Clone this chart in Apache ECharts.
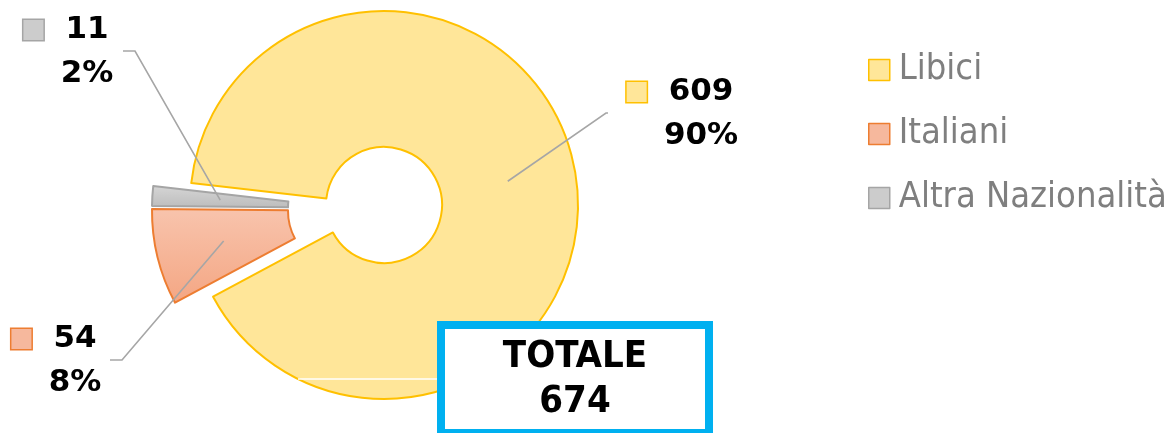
<!DOCTYPE html>
<html><head><meta charset="utf-8">
<script src="https://cdn.jsdelivr.net/npm/echarts@6/dist/echarts.min.js"></script>
<style>html,body{margin:0;padding:0;background:#fff}#c{width:1170px;height:433px}</style>
</head><body><div id="c"></div>
<script>
// ---- data ----
const categories = ['Libici', 'Italiani', 'Altra Nazionalità'];
const values = [609, 54, 11];
const totalTitle = 'TOTALE';

// ---- styles ----
const fills = [
  '#ffe699',
  {type:'linear',x:0,y:0,x2:0,y2:1,colorStops:[{offset:0,color:'#f8c4ad'},{offset:1,color:'#f4a683'}]},
  {type:'linear',x:0,y:0,x2:0,y2:1,colorStops:[{offset:0,color:'#d6d6d6'},{offset:1,color:'#bcbcbc'}]}
];
const markerFills = ['#ffe699', '#f6b89d', '#cccccc'];
const borders = ['#ffc000', '#ed7d31', '#a5a5a5'];

// ---- layout ----
const START_ANGLE = 173.5;
const R_IN = 58, R_OUT = 194;
const centers = [[384, 205], [346, 211], [346, 208]];
const labelAnchors = [[701, 114], [75, 361], [87, 52]];
const lineEnds = [[[606, 113], [608, 113]], [[122, 360], [110, 360]], [[135, 51], [123, 51]]];

const total = values.reduce((a, b) => a + b, 0);
const midAngles = [];
let acc = START_ANGLE;
values.forEach(v => { const span = v / total * 360; midAngles.push(acc - span / 2); acc -= span; });

const labelFont = {fontSize: 31, fontWeight: 'bold', color: '#000', fontFamily: "'DejaVu Sans', Verdana, sans-serif", lineHeight: 44};

function makeSeries(i) {
  return {
    type: 'pie',
    silent: true,
    z: 2,
    center: centers[i],
    radius: [R_IN, R_OUT],
    startAngle: START_ANGLE,
    clockwise: true,
    avoidLabelOverlap: false,
    animation: false,
    data: categories.map((name, k) => {
      if (k !== i) {
        return {name, value: values[k], itemStyle: {color: 'rgba(0,0,0,0)', borderWidth: 0},
                label: {show: false}};
      }
      return {name, value: values[k], itemStyle: {color: fills[k], borderColor: borders[k], borderWidth: 2}};
    }),
    label: {
      show: true,
      position: 'outside',
      formatter: p => `{m|}{g|}{v|${values[i]}}{s|}\n{p|${Math.round(values[i] / total * 100)}%}`,
      rich: {
        m: {width: 20, height: 20, backgroundColor: markerFills[i], borderColor: borders[i], borderWidth: 1.5},
        g: {width: 22},
        s: {width: 42},
        v: labelFont,
        p: labelFont
      }
    },
    labelLine: {show: false},
    labelLayout: function (p) {
      if (p.dataIndex !== i) return {};
      return {x: labelAnchors[i][0], y: labelAnchors[i][1], align: 'center', verticalAlign: 'middle'};
    }
  };
}

// leader lines: start at the middle of the ring, at each slice's mid angle
const leaderLines = values.map((v, i) => {
  const mid = midAngles[i] * Math.PI / 180, rm = (R_IN + R_OUT) / 2;
  const sx = centers[i][0] + rm * Math.cos(mid), sy = centers[i][1] - rm * Math.sin(mid);
  return {type: 'polyline', z: 5, silent: true,
          shape: {points: [[sx, sy], lineEnds[i][0], lineEnds[i][1]]},
          style: {stroke: '#a6a6a6', lineWidth: 1.6, fill: null}};
});

const chart = echarts.init(document.getElementById('c'), null, {renderer: 'canvas'});
chart.setOption({
  animation: false,
  legend: {
    orient: 'vertical', left: 863, top: 45,
    itemWidth: 21, itemHeight: 21, itemGap: 24, icon: 'rect',
    selectedMode: false,
    textStyle: {fontSize: 36, fontFamily: "'DejaVu Sans Condensed', 'DejaVu Sans', sans-serif", color: '#7f7f7f', lineHeight: 40, padding: [0, 0, 0, 4]},
    data: categories.map((c, i) => ({name: c, itemStyle: {color: markerFills[i], borderColor: borders[i], borderWidth: 1.5}}))
  },
  series: [0, 1, 2].map(makeSeries),
  graphic: leaderLines.concat([
    {type: 'line', z: 10, shape: {x1: 298, y1: 379, x2: 437, y2: 379}, style: {stroke: '#ffffff', lineWidth: 1.5}},
    {type: 'rect', z: 10, shape: {x: 441, y: 325, width: 268, height: 108}, style: {fill: '#ffffff', stroke: '#00b0f0', lineWidth: 8}},
    {type: 'text', z: 11, x: 575, y: 380, style: {text: totalTitle + '\n' + total, fontSize: 38, fontWeight: 'bold',
      fontFamily: "'DejaVu Sans Condensed', sans-serif", fill: '#000', align: 'center', verticalAlign: 'middle', lineHeight: 45}}
  ])
});
</script></body></html>
